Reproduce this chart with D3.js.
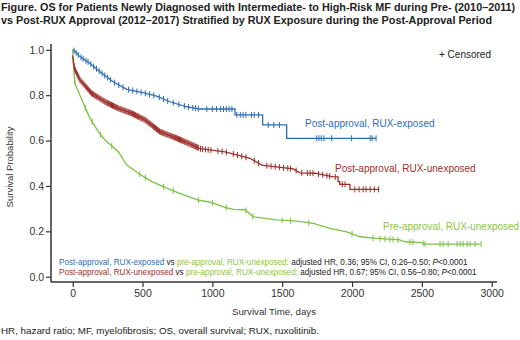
<!DOCTYPE html>
<html><head><meta charset="utf-8">
<script src="https://cdn.jsdelivr.net/npm/d3@7"></script>
<style>
body{margin:0;background:#fff;}
text{font-family:"Liberation Sans",Arial,sans-serif;}
</style></head>
<body><svg id="c" width="520" height="340"></svg>
<script>
// ---- data ----
const seriesNames = ["Post-approval, RUX-exposed","Post-approval, RUX-unexposed","Pre-approval, RUX-unexposed"];
const xTicks = [0,500,1000,1500,2000,2500,3000];
const yTicks = [0,0.2,0.4,0.6,0.8,1.0];
const exposedCurve = [[0,1.0],[4,1.0],[52,0.970],[124,0.940],[195,0.903],[289,0.859],[387,0.826],[503,0.811],[601,0.796],[696,0.771],[816,0.749],[911,0.739],[1162,0.739],[1162,0.713],[1360,0.713],[1360,0.669],[1532,0.669],[1532,0.610],[2172,0.610]];
const unexposedCurve = [[0,0.975],[12,0.918],[52,0.867],[136,0.808],[231,0.771],[327,0.742],[422,0.720],[518,0.691],[625,0.639],[745,0.610],[840,0.585],[913,0.564],[1090,0.550],[1269,0.522],[1353,0.492],[1580,0.475],[1627,0.458],[1735,0.456],[1866,0.440],[1900,0.440],[1900,0.419],[1912,0.419],[1912,0.407],[1985,0.407],[1985,0.385],[2195,0.385]];
const preCurve = [[0,1.0],[3,0.95],[16,0.852],[76,0.764],[124,0.698],[183,0.639],[231,0.602],[327,0.551],[387,0.492],[470,0.456],[566,0.419],[661,0.394],[780,0.364],[899,0.338],[995,0.326],[1090,0.306],[1150,0.297],[1234,0.295],[1293,0.264],[1461,0.250],[1604,0.245],[1723,0.235],[1842,0.213],[1962,0.198],[2057,0.176],[2177,0.169],[2343,0.162],[2379,0.154],[2499,0.150],[2522,0.144],[2920,0.144]];
const exposedCensor = [10,25,40,60,75,95,110,130,150,170,190,210,230,250,270,300,330,360,400,430,460,490,520,550,580,620,650,680,720,760,800,830,860,880,900,960,1000,1030,1060,1080,1100,1120,1140,1175,1200,1220,1240,1280,1300,1330,1400,1440,1480,1747,1763,1780,1799,1854,1997,2130,2144,2172];
const unexposedCensor = [5,10,15,20,25,30,35,40,45,52,60,68,75,82,90,98,105,112,120,128,135,142,150,158,165,172,180,188,195,202,210,218,225,232,240,248,255,262,270,278,285,292,300,308,315,322,330,338,345,352,360,368,375,382,390,398,405,412,420,428,435,442,450,458,465,472,480,488,495,502,510,518,525,532,540,548,555,562,570,578,585,592,600,608,615,622,630,638,645,652,660,668,675,682,690,698,705,712,720,728,735,742,750,758,765,772,780,788,795,802,810,818,825,832,840,848,855,862,870,878,885,892,900,915,930,950,970,990,1040,1070,1100,1150,1180,1210,1240,1300,1330,1390,1420,1450,1480,1510,1540,1560,1600,1640,1680,1700,1720,1760,1790,1820,1840,1880,1930,1950,2020,2050,2080,2100,2130,2160,2190];
const preCensor = [15,90,140,200,280,480,520,650,720,900,1000,1100,1240,1290,1500,1560,1690,2000,2150,2200,2236,2272,2294,2329,2415,2437,2509,2523,2630,2652,2688,2752,2774,2795,2824,2845,2881,2924];
const titleLines = ["Figure. OS for Patients Newly Diagnosed with Intermediate- to High-Risk MF during Pre- (2010\u20132011)","vs Post-RUX Approval (2012\u20132017) Stratified by RUX Exposure during the Post-Approval Period"];
const hrTexts = [" adjusted HR, 0.36; 95% CI, 0.26\u20130.50; "," adjusted HR, 0.67; 95% CI, 0.56\u20130.80; "];
const footnote = "HR, hazard ratio; MF, myelofibrosis; OS, overall survival; RUX, ruxolitinib.";

const colors = ["#2f6db5","#9e2f2b","#7cc243"];
const svg = d3.select("#c");
const x = d3.scaleLinear().domain([0,3000]).range([72.7,491.7]);
const y = d3.scaleLinear().domain([0,1]).range([276.7,49.8]);

// title
svg.selectAll("text.title").data(titleLines).join("text")
  .attr("x",1).attr("y",(d,i)=>11+i*12.5).attr("font-size",10.8).attr("font-weight","bold").attr("fill","#222").text(d=>d);

// axes
const axisColor="#333";
const ya = svg.append("g").attr("transform","translate(51,0)")
  .call(d3.axisLeft(y).tickValues(yTicks).tickFormat(d3.format(".1f")).tickSize(5).tickSizeOuter(0));
const xa = svg.append("g").attr("transform","translate(0,282)")
  .call(d3.axisBottom(x).tickValues(xTicks).tickFormat(d3.format("d")).tickSize(5).tickSizeOuter(0));
[ya,xa].forEach(g=>{g.select(".domain").remove();g.selectAll("line").attr("stroke",axisColor).attr("stroke-width",1.2);
  g.selectAll("text").attr("font-size",10.5).attr("fill","#333").attr("font-family","Liberation Sans, Arial, sans-serif");});
ya.selectAll("text").attr("x",-7);
xa.selectAll("text").attr("y",8);
svg.append("line").attr("x1",51).attr("x2",51).attr("y1",44).attr("y2",282).attr("stroke",axisColor).attr("stroke-width",1.5);
svg.append("line").attr("x1",51).attr("x2",497).attr("y1",282).attr("y2",282).attr("stroke",axisColor).attr("stroke-width",1.5);

svg.append("text").attr("transform","translate(13,167) rotate(-90)").attr("text-anchor","middle").attr("font-size",9.5).attr("fill","#333").text("Survival Probability");
svg.append("text").attr("x",274).attr("y",314.5).attr("text-anchor","middle").attr("font-size",9.7).attr("fill","#333").text("Survival Time, days");

// curves
const curves=[exposedCurve,unexposedCurve,preCurve];
const censors=[exposedCensor,unexposedCensor,preCensor];
const line=d3.line().x(d=>x(d[0])).y(d=>y(d[1]));
function survAt(c,t){
  for(let i=0;i<c.length-1;i++){if(c[i][0]<=t&&c[i+1][0]>t){const a=c[i],b=c[i+1];return a[1]+(b[1]-a[1])*(t-a[0])/(b[0]-a[0]);}}
  return c[c.length-1][1];}
[2,1,0].forEach(i=>{
  svg.append("path").attr("d",line(curves[i])).attr("fill","none").attr("stroke",colors[i]).attr("stroke-width",1.3);
  svg.append("g").selectAll("line").data(censors[i]).join("line")
    .attr("x1",d=>x(d)).attr("x2",d=>x(d))
    .attr("y1",d=>y(survAt(curves[i],d))-3).attr("y2",d=>y(survAt(curves[i],d))+3)
    .attr("stroke",colors[i]).attr("stroke-width",1);
});

// labels
svg.append("text").attr("x",305).attr("y",127).attr("font-size",10).attr("fill",colors[0]).text(seriesNames[0]);
svg.append("text").attr("x",335).attr("y",171.5).attr("font-size",10).attr("fill",colors[1]).text(seriesNames[1]);
svg.append("text").attr("x",383).attr("y",229.5).attr("font-size",10).attr("fill","#8cc63f").text(seriesNames[2]);
svg.append("text").attr("x",439).attr("y",57.5).attr("font-size",10).attr("fill","#222").text("+ Censored");

// HR annotations
[0,1].forEach(i=>{
  const t=svg.append("text").attr("x",59).attr("y",265.3+i*10).attr("font-size",8.15).attr("fill","#222");
  t.append("tspan").attr("fill",colors[i]).text(seriesNames[i]);
  t.append("tspan").text(" vs ");
  t.append("tspan").attr("fill","#8cc63f").text("pre-approval, RUX-unexposed:");
  t.append("tspan").text(hrTexts[i]);
  t.append("tspan").attr("font-style","italic").text("P");
  t.append("tspan").text("<0.0001");
});

svg.append("text").attr("x",1).attr("y",334).attr("font-size",9.8).attr("fill","#222").text(footnote);
</script></body></html>
